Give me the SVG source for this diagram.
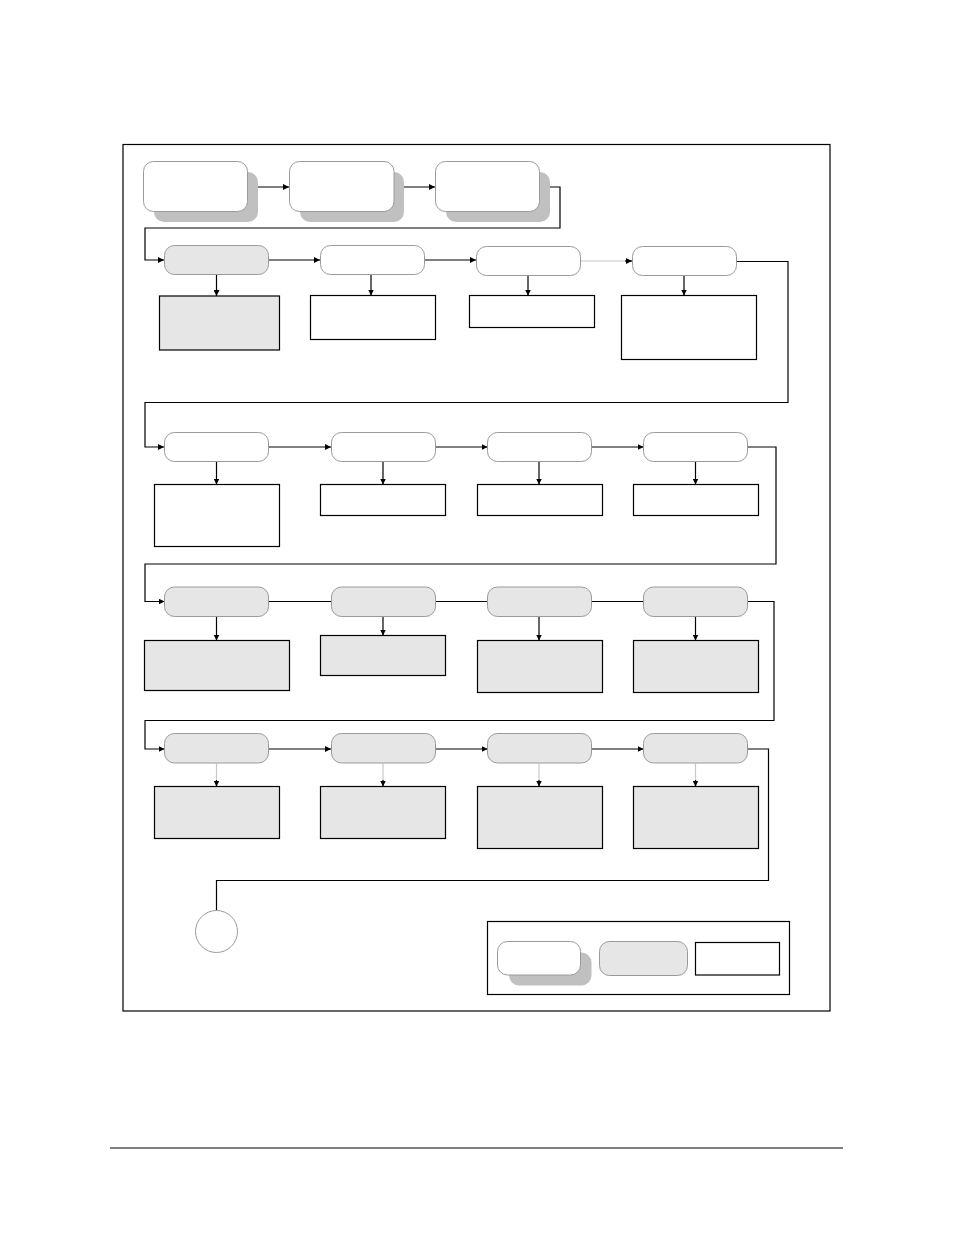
<svg xmlns="http://www.w3.org/2000/svg" width="954" height="1235" viewBox="0 0 954 1235">
<style>
.rw{fill:#ffffff;stroke:#9a9a9a;stroke-width:1}
.rg{fill:#e6e6e6;stroke:#9a9a9a;stroke-width:1}
.sh{fill:#c0c0c0;stroke:none}
.bw{fill:#ffffff;stroke:#000;stroke-width:1.2}
.bg{fill:#e6e6e6;stroke:#000;stroke-width:1.2}
.c{fill:none;stroke:#000;stroke-width:1.2}
.cl{fill:none;stroke:#c8c8c8;stroke-width:1.2}
.frame{fill:none;stroke:#000;stroke-width:1.2}
</style>
<defs>
<marker id="ah" viewBox="0 0 10 10" refX="10" refY="5" markerWidth="6" markerHeight="6" markerUnits="userSpaceOnUse" orient="auto">
<path d="M0,0 L10,5 L0,10 z" fill="#000"/>
</marker>
</defs>
<rect width="954" height="1235" fill="#fff"/>
<rect class="frame" x="123" y="144.5" width="707" height="866.5"/>
<line x1="110" y1="1148" x2="843" y2="1148" stroke="#000" stroke-width="1"/>

<g id="connectors">
<path class="c" d="M247.5,187 H289" marker-end="url(#ah)"/>
<path class="c" d="M394,187 H435" marker-end="url(#ah)"/>
<path class="c" d="M539.5,187 H560 V228 H145 V260 H164" marker-end="url(#ah)"/>
<path class="c" d="M268.5,260 H320" marker-end="url(#ah)"/>
<path class="c" d="M424.5,260 H476" marker-end="url(#ah)"/>
<path class="cl" d="M580.5,261 H626"/>
<path class="c" d="M625,261 H632" marker-end="url(#ah)"/>
<path class="c" d="M737,261.5 H788 V402.5 H145 V447 H164" marker-end="url(#ah)"/>
<path class="c" d="M216.5,274.5 V296" marker-end="url(#ah)"/>
<path class="c" d="M371,274.5 V295.5" marker-end="url(#ah)"/>
<path class="c" d="M528,275.5 V295.5" marker-end="url(#ah)"/>
<path class="c" d="M684,275.5 V295.5" marker-end="url(#ah)"/>

<path class="c" d="M269,447 H331" marker-end="url(#ah)"/>
<path class="c" d="M435.5,447 H487.5" marker-end="url(#ah)"/>
<path class="c" d="M591.5,447 H643.5" marker-end="url(#ah)"/>
<path class="c" d="M748,447 H776 V564 H145 V601.5 H164.5" marker-end="url(#ah)"/>
<path class="c" d="M216.5,462 V484.5" marker-end="url(#ah)"/>
<path class="c" d="M383,462 V484.5" marker-end="url(#ah)"/>
<path class="c" d="M539,462 V484.5" marker-end="url(#ah)"/>
<path class="c" d="M695.5,462 V484.5" marker-end="url(#ah)"/>

<path class="c" d="M269,601.5 H331"/>
<path class="c" d="M435.5,601.5 H487.5"/>
<path class="c" d="M591.5,601.5 H643.5"/>
<path class="c" d="M748,601.5 H774 V720.5 H145 V749 H164.5" marker-end="url(#ah)"/>
<path class="c" d="M216.5,617 V640.5" marker-end="url(#ah)"/>
<path class="c" d="M383,617 V635.5" marker-end="url(#ah)"/>
<path class="c" d="M539,617 V640.5" marker-end="url(#ah)"/>
<path class="c" d="M695.5,617 V640.5" marker-end="url(#ah)"/>

<path class="c" d="M269,749 H331" marker-end="url(#ah)"/>
<path class="c" d="M435.5,749 H487.5" marker-end="url(#ah)"/>
<path class="c" d="M591.5,749 H643.5" marker-end="url(#ah)"/>
<path class="c" d="M748,749 H768.5 V880.5 H216.5 V910.5"/>
<path class="cl" d="M216.5,763.5 V781"/>
<path class="c" d="M216.5,780 V786.5" marker-end="url(#ah)"/>
<path class="cl" d="M383,763.5 V781"/>
<path class="c" d="M383,780 V786.5" marker-end="url(#ah)"/>
<path class="cl" d="M539,763.5 V781"/>
<path class="c" d="M539,780 V786.5" marker-end="url(#ah)"/>
<path class="cl" d="M695.5,763.5 V781"/>
<path class="c" d="M695.5,780 V786.5" marker-end="url(#ah)"/>
</g>

<g id="n01"><rect class="sh" x="154" y="172" width="104" height="50" rx="10"/><rect class="rw" x="143.5" y="161.5" width="104" height="50" rx="10"/></g>
<g id="n02"><rect class="sh" x="300" y="172" width="104" height="50" rx="10"/><rect class="rw" x="289.5" y="161.5" width="104.5" height="50" rx="10"/></g>
<g id="n03"><rect class="sh" x="446" y="172" width="104" height="50" rx="10"/><rect class="rw" x="435.5" y="161.5" width="104" height="50" rx="10"/></g>

<g id="n11"><rect class="rg" x="164.5" y="245.5" width="104" height="29" rx="10"/></g>
<g id="n12"><rect class="rw" x="320.5" y="245.5" width="104" height="29" rx="10"/></g>
<g id="n13"><rect class="rw" x="476.5" y="246.5" width="104" height="29" rx="10"/></g>
<g id="n14"><rect class="rw" x="632.5" y="246.5" width="104" height="29" rx="10"/></g>
<g id="s11"><rect class="bg" x="159.5" y="296" width="120" height="54"/></g>
<g id="s12"><rect class="bw" x="310.5" y="295.5" width="125" height="44"/></g>
<g id="s13"><rect class="bw" x="469.5" y="295.5" width="125" height="32"/></g>
<g id="s14"><rect class="bw" x="621.5" y="295.5" width="135" height="64"/></g>

<g id="n21"><rect class="rw" x="164.5" y="432.5" width="104" height="29" rx="10"/></g>
<g id="n22"><rect class="rw" x="331.5" y="432.5" width="104" height="29" rx="10"/></g>
<g id="n23"><rect class="rw" x="487.5" y="432.5" width="104" height="29" rx="10"/></g>
<g id="n24"><rect class="rw" x="643.5" y="432.5" width="104" height="29" rx="10"/></g>
<g id="s21"><rect class="bw" x="154.5" y="484.5" width="125" height="62"/></g>
<g id="s22"><rect class="bw" x="320.5" y="484.5" width="125" height="31"/></g>
<g id="s23"><rect class="bw" x="477.5" y="484.5" width="125" height="31"/></g>
<g id="s24"><rect class="bw" x="633.5" y="484.5" width="125" height="31"/></g>

<g id="n31"><rect class="rg" x="164.5" y="587" width="104" height="29.5" rx="10"/></g>
<g id="n32"><rect class="rg" x="331.5" y="587" width="104" height="29.5" rx="10"/></g>
<g id="n33"><rect class="rg" x="487.5" y="587" width="104" height="29.5" rx="10"/></g>
<g id="n34"><rect class="rg" x="643.5" y="587" width="104" height="29.5" rx="10"/></g>
<g id="s31"><rect class="bg" x="144.5" y="640.5" width="145" height="50"/></g>
<g id="s32"><rect class="bg" x="320.5" y="635.5" width="125" height="40"/></g>
<g id="s33"><rect class="bg" x="477.5" y="640.5" width="125" height="52"/></g>
<g id="s34"><rect class="bg" x="633.5" y="640.5" width="125" height="52"/></g>

<g id="n41"><rect class="rg" x="164.5" y="733.5" width="104" height="29.5" rx="10"/></g>
<g id="n42"><rect class="rg" x="331.5" y="733.5" width="104" height="29.5" rx="10"/></g>
<g id="n43"><rect class="rg" x="487.5" y="733.5" width="104" height="29.5" rx="10"/></g>
<g id="n44"><rect class="rg" x="643.5" y="733.5" width="104" height="29.5" rx="10"/></g>
<g id="s41"><rect class="bg" x="154.5" y="786.5" width="125" height="52"/></g>
<g id="s42"><rect class="bg" x="320.5" y="786.5" width="125" height="52"/></g>
<g id="s43"><rect class="bg" x="477.5" y="786.5" width="125" height="62"/></g>
<g id="s44"><rect class="bg" x="633.5" y="786.5" width="125" height="62"/></g>

<g id="end"><circle cx="216.5" cy="931.5" r="21" fill="#fff" stroke="#9a9a9a" stroke-width="1"/></g>

<g id="legend">
<rect class="frame" x="487.5" y="921.5" width="302" height="73"/>
<rect class="sh" x="509" y="952.5" width="82.5" height="33" rx="10"/>
<rect class="rw" x="497.5" y="941.5" width="83" height="33.5" rx="10"/>
<rect class="rg" x="599.5" y="941.5" width="88" height="34" rx="10"/>
<rect class="bw" x="695.5" y="942.5" width="84" height="32.5"/>
</g>
</svg>
